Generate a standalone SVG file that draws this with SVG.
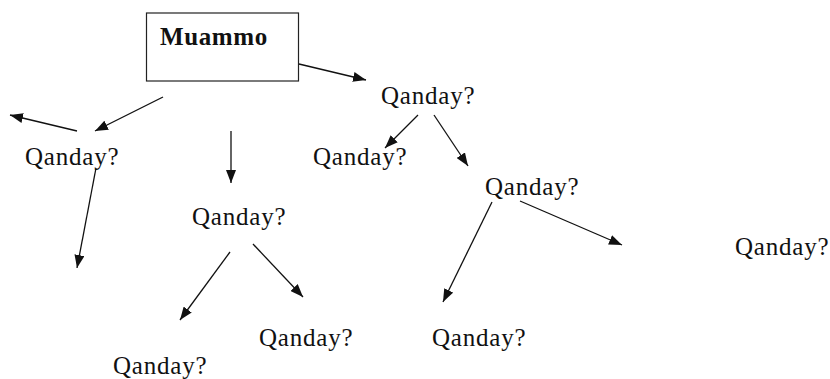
<svg xmlns="http://www.w3.org/2000/svg" width="830" height="379" viewBox="0 0 830 379">
  <style>
    .lbl { font-family: "Liberation Serif", "Times New Roman", serif; font-size: 25px; letter-spacing: 0.8px; fill: #111; }
    .title { font-family: "Liberation Serif", "Times New Roman", serif; font-size: 25px; font-weight: bold; letter-spacing: 0.6px; fill: #111; }
    .box { fill: #fff; stroke: #222; stroke-width: 1.2; }
    .edge { stroke: #111; stroke-width: 1.3; fill: none; marker-end: url(#arrow); }
  </style>
  <defs>
    <marker id="arrow" markerUnits="userSpaceOnUse" markerWidth="14" markerHeight="10" viewBox="0 0 14 10" refX="13" refY="5" orient="auto">
      <path d="M0,0 L13,5 L0,10 Z" fill="#111"/>
    </marker>
  </defs>
  <rect width="830" height="379" fill="#fff"/>

  <g id="root">
    <rect class="box" x="146.5" y="13" width="152" height="68"/>
    <text class="title" x="160" y="45">Muammo</text>
  </g>

  <g id="n1"><text class="lbl" x="381" y="104">Qanday?</text></g>
  <g id="n2"><text class="lbl" x="25" y="165">Qanday?</text></g>
  <g id="n3"><text class="lbl" x="313" y="165">Qanday?</text></g>
  <g id="n4"><text class="lbl" x="485" y="195">Qanday?</text></g>
  <g id="n5"><text class="lbl" x="192" y="225">Qanday?</text></g>
  <g id="n6"><text class="lbl" x="735" y="255">Qanday?</text></g>
  <g id="n7"><text class="lbl" x="259" y="346">Qanday?</text></g>
  <g id="n8"><text class="lbl" x="432" y="346">Qanday?</text></g>
  <g id="n9"><text class="lbl" x="113" y="374">Qanday?</text></g>

  <g id="connectors">
    <line class="edge" x1="299" y1="64" x2="366" y2="80"/>
    <line class="edge" x1="163" y1="97" x2="95" y2="131"/>
    <line class="edge" x1="77" y1="131" x2="10" y2="115"/>
    <line class="edge" x1="96" y1="168" x2="77" y2="268"/>
    <line class="edge" x1="231" y1="131" x2="231" y2="183"/>
    <line class="edge" x1="418" y1="115" x2="385" y2="148"/>
    <line class="edge" x1="434" y1="115" x2="468" y2="166"/>
    <line class="edge" x1="230" y1="252" x2="180" y2="320"/>
    <line class="edge" x1="253" y1="244" x2="303" y2="297"/>
    <line class="edge" x1="492" y1="202" x2="443" y2="302"/>
    <line class="edge" x1="520" y1="201" x2="622" y2="245"/>
  </g>
</svg>
